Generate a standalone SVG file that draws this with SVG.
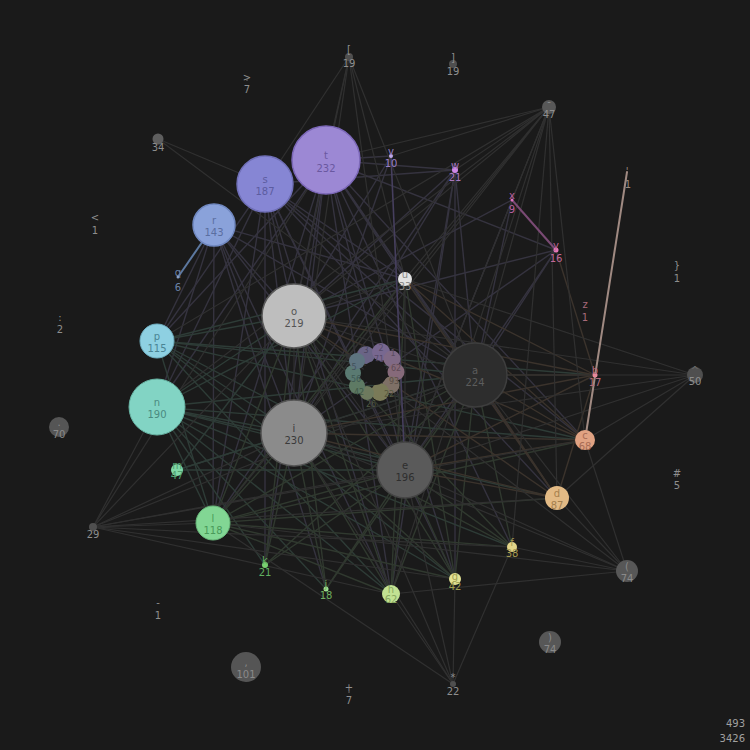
<svg xmlns="http://www.w3.org/2000/svg" width="750" height="750" viewBox="0 0 750 750">
<style>
text{font-family:"DejaVu Sans","Liberation Sans",sans-serif;font-size:10px;text-anchor:middle}
.ep line{stroke:#35333f;stroke-width:1.4}
.et line{stroke:#2e3c37;stroke-width:1.4}
.eg line{stroke:#30392f;stroke-width:1.4}
.eb line{stroke:#3b332c;stroke-width:1.4}
.ey line{stroke:#303030;stroke-width:1.2}
.gp{fill:#4f4f4f}
.gt{fill:#8e8e8e}
#digits text{font-size:8px}
</style>
<rect width="750" height="750" fill="#1a1a1a"/>
<g id="connectors">
<g class="ep">
<line x1="326" y1="160" x2="294" y2="316"/><line x1="326" y1="160" x2="294" y2="433"/><line x1="326" y1="160" x2="405" y2="470"/><line x1="326" y1="160" x2="475" y2="375"/><line x1="326" y1="160" x2="405" y2="279"/><line x1="326" y1="160" x2="157" y2="407"/><line x1="326" y1="160" x2="157" y2="341"/><line x1="326" y1="160" x2="213" y2="523"/><line x1="326" y1="160" x2="391" y2="594"/><line x1="326" y1="160" x2="455" y2="579"/><line x1="326" y1="160" x2="556" y2="250"/><line x1="326" y1="160" x2="557" y2="498"/><line x1="326" y1="160" x2="585" y2="440"/><line x1="326" y1="160" x2="265" y2="565"/><line x1="326" y1="160" x2="512" y2="547"/>
<line x1="265" y1="184" x2="294" y2="316"/><line x1="265" y1="184" x2="294" y2="433"/><line x1="265" y1="184" x2="405" y2="470"/><line x1="265" y1="184" x2="475" y2="375"/><line x1="265" y1="184" x2="157" y2="407"/><line x1="265" y1="184" x2="157" y2="341"/><line x1="265" y1="184" x2="213" y2="523"/><line x1="265" y1="184" x2="391" y2="594"/><line x1="265" y1="184" x2="405" y2="279"/><line x1="265" y1="184" x2="455" y2="579"/><line x1="265" y1="184" x2="265" y2="565"/><line x1="265" y1="184" x2="557" y2="498"/><line x1="265" y1="184" x2="585" y2="440"/>
<line x1="214" y1="225" x2="294" y2="316"/><line x1="214" y1="225" x2="294" y2="433"/><line x1="214" y1="225" x2="405" y2="470"/><line x1="214" y1="225" x2="475" y2="375"/><line x1="214" y1="225" x2="157" y2="407"/><line x1="214" y1="225" x2="157" y2="341"/><line x1="214" y1="225" x2="213" y2="523"/><line x1="214" y1="225" x2="405" y2="279"/><line x1="214" y1="225" x2="391" y2="594"/><line x1="214" y1="225" x2="326" y2="589"/>
<line x1="455" y1="170" x2="294" y2="316"/><line x1="455" y1="170" x2="294" y2="433"/><line x1="455" y1="170" x2="405" y2="470"/><line x1="455" y1="170" x2="475" y2="375"/><line x1="455" y1="170" x2="391" y2="594"/><line x1="455" y1="170" x2="326" y2="160"/><line x1="455" y1="170" x2="265" y2="184"/><line x1="455" y1="170" x2="455" y2="579"/><line x1="455" y1="170" x2="213" y2="523"/>
<line x1="391" y1="156" x2="294" y2="316"/><line x1="391" y1="156" x2="326" y2="160"/><line x1="391" y1="156" x2="294" y2="433"/>
<line x1="512" y1="200" x2="475" y2="375"/><line x1="512" y1="200" x2="405" y2="470"/><line x1="512" y1="200" x2="294" y2="316"/>
<line x1="556" y1="250" x2="475" y2="375"/><line x1="556" y1="250" x2="405" y2="470"/><line x1="556" y1="250" x2="294" y2="433"/><line x1="556" y1="250" x2="294" y2="316"/>
</g>
<g class="et">
<line x1="157" y1="407" x2="294" y2="316"/><line x1="157" y1="407" x2="294" y2="433"/><line x1="157" y1="407" x2="405" y2="470"/><line x1="157" y1="407" x2="475" y2="375"/><line x1="157" y1="407" x2="213" y2="523"/><line x1="157" y1="407" x2="391" y2="594"/><line x1="157" y1="407" x2="455" y2="579"/><line x1="157" y1="407" x2="557" y2="498"/><line x1="157" y1="407" x2="585" y2="440"/><line x1="157" y1="407" x2="512" y2="547"/><line x1="157" y1="407" x2="405" y2="279"/><line x1="157" y1="407" x2="265" y2="565"/><line x1="157" y1="407" x2="326" y2="589"/>
<line x1="157" y1="341" x2="294" y2="316"/><line x1="157" y1="341" x2="294" y2="433"/><line x1="157" y1="341" x2="405" y2="470"/><line x1="157" y1="341" x2="475" y2="375"/><line x1="157" y1="341" x2="405" y2="279"/><line x1="157" y1="341" x2="213" y2="523"/><line x1="157" y1="341" x2="391" y2="594"/><line x1="157" y1="341" x2="595" y2="375"/><line x1="157" y1="341" x2="585" y2="440"/><line x1="157" y1="341" x2="455" y2="579"/>
<line x1="177" y1="470" x2="294" y2="433"/><line x1="177" y1="470" x2="405" y2="470"/><line x1="177" y1="470" x2="475" y2="375"/><line x1="177" y1="470" x2="294" y2="316"/>
</g>
<g class="eg">
<line x1="213" y1="523" x2="294" y2="316"/><line x1="213" y1="523" x2="294" y2="433"/><line x1="213" y1="523" x2="405" y2="470"/><line x1="213" y1="523" x2="475" y2="375"/><line x1="213" y1="523" x2="405" y2="279"/><line x1="213" y1="523" x2="391" y2="594"/><line x1="213" y1="523" x2="455" y2="579"/><line x1="213" y1="523" x2="557" y2="498"/><line x1="213" y1="523" x2="585" y2="440"/><line x1="213" y1="523" x2="512" y2="547"/>
<line x1="265" y1="565" x2="294" y2="433"/><line x1="265" y1="565" x2="405" y2="470"/><line x1="265" y1="565" x2="475" y2="375"/><line x1="265" y1="565" x2="294" y2="316"/>
<line x1="326" y1="589" x2="294" y2="433"/><line x1="326" y1="589" x2="475" y2="375"/><line x1="326" y1="589" x2="294" y2="316"/><line x1="326" y1="589" x2="405" y2="470"/>
<line x1="391" y1="594" x2="294" y2="316"/><line x1="391" y1="594" x2="294" y2="433"/><line x1="391" y1="594" x2="405" y2="470"/><line x1="391" y1="594" x2="475" y2="375"/><line x1="391" y1="594" x2="405" y2="279"/>
<line x1="455" y1="579" x2="294" y2="316"/><line x1="455" y1="579" x2="294" y2="433"/><line x1="455" y1="579" x2="405" y2="470"/><line x1="455" y1="579" x2="475" y2="375"/><line x1="455" y1="579" x2="405" y2="279"/>
<line x1="512" y1="547" x2="294" y2="316"/><line x1="512" y1="547" x2="294" y2="433"/><line x1="512" y1="547" x2="405" y2="470"/><line x1="512" y1="547" x2="475" y2="375"/>
</g>
<g class="eb">
<line x1="557" y1="498" x2="294" y2="316"/><line x1="557" y1="498" x2="294" y2="433"/><line x1="557" y1="498" x2="405" y2="470"/><line x1="557" y1="498" x2="475" y2="375"/><line x1="557" y1="498" x2="405" y2="279"/><line x1="557" y1="498" x2="595" y2="375"/>
<line x1="585" y1="440" x2="294" y2="316"/><line x1="585" y1="440" x2="294" y2="433"/><line x1="585" y1="440" x2="405" y2="470"/><line x1="585" y1="440" x2="475" y2="375"/><line x1="585" y1="440" x2="405" y2="279"/><line x1="585" y1="440" x2="595" y2="375"/>
<line x1="595" y1="375" x2="294" y2="316"/><line x1="595" y1="375" x2="294" y2="433"/><line x1="595" y1="375" x2="405" y2="470"/><line x1="595" y1="375" x2="475" y2="375"/><line x1="595" y1="375" x2="405" y2="279"/><line x1="595" y1="375" x2="556" y2="250"/>
</g>
<g class="ey">
<line x1="349" y1="57" x2="265" y2="184"/><line x1="349" y1="57" x2="326" y2="160"/><line x1="349" y1="57" x2="294" y2="316"/><line x1="349" y1="57" x2="294" y2="433"/><line x1="349" y1="57" x2="475" y2="375"/><line x1="349" y1="57" x2="405" y2="470"/><line x1="349" y1="57" x2="405" y2="279"/>
<line x1="549" y1="107" x2="326" y2="160"/><line x1="549" y1="107" x2="391" y2="156"/><line x1="549" y1="107" x2="455" y2="170"/><line x1="549" y1="107" x2="294" y2="316"/><line x1="549" y1="107" x2="294" y2="433"/><line x1="549" y1="107" x2="475" y2="375"/><line x1="549" y1="107" x2="405" y2="470"/><line x1="549" y1="107" x2="405" y2="279"/><line x1="549" y1="107" x2="157" y2="341"/><line x1="549" y1="107" x2="157" y2="407"/><line x1="549" y1="107" x2="213" y2="523"/><line x1="549" y1="107" x2="557" y2="498"/><line x1="549" y1="107" x2="585" y2="440"/><line x1="549" y1="107" x2="512" y2="547"/><line x1="549" y1="107" x2="391" y2="594"/><line x1="549" y1="107" x2="512" y2="200"/>
<line x1="695" y1="375" x2="405" y2="279"/><line x1="695" y1="375" x2="475" y2="375"/><line x1="695" y1="375" x2="294" y2="316"/><line x1="695" y1="375" x2="294" y2="433"/><line x1="695" y1="375" x2="405" y2="470"/><line x1="695" y1="375" x2="585" y2="440"/><line x1="695" y1="375" x2="557" y2="498"/>
<line x1="627" y1="571" x2="557" y2="498"/><line x1="627" y1="571" x2="512" y2="547"/><line x1="627" y1="571" x2="405" y2="470"/><line x1="627" y1="571" x2="294" y2="433"/><line x1="627" y1="571" x2="213" y2="523"/><line x1="627" y1="571" x2="475" y2="375"/><line x1="627" y1="571" x2="294" y2="316"/><line x1="627" y1="571" x2="391" y2="594"/><line x1="627" y1="571" x2="585" y2="440"/>
<line x1="453" y1="684" x2="391" y2="594"/><line x1="453" y1="684" x2="213" y2="523"/><line x1="453" y1="684" x2="294" y2="433"/><line x1="453" y1="684" x2="405" y2="470"/><line x1="453" y1="684" x2="294" y2="316"/><line x1="453" y1="684" x2="455" y2="579"/><line x1="453" y1="684" x2="512" y2="547"/>
<line x1="93" y1="527" x2="213" y2="523"/><line x1="93" y1="527" x2="294" y2="433"/><line x1="93" y1="527" x2="405" y2="470"/><line x1="93" y1="527" x2="157" y2="407"/><line x1="93" y1="527" x2="475" y2="375"/><line x1="93" y1="527" x2="294" y2="316"/><line x1="93" y1="527" x2="512" y2="547"/><line x1="93" y1="527" x2="455" y2="579"/><line x1="93" y1="527" x2="391" y2="594"/><line x1="93" y1="527" x2="557" y2="498"/><line x1="93" y1="527" x2="585" y2="440"/><line x1="93" y1="527" x2="326" y2="160"/>
<line x1="158" y1="139" x2="265" y2="184"/><line x1="158" y1="139" x2="475" y2="375"/>
<line x1="294" y1="316" x2="294" y2="433"/><line x1="294" y1="316" x2="405" y2="470"/><line x1="294" y1="316" x2="475" y2="375"/><line x1="294" y1="433" x2="405" y2="470"/><line x1="294" y1="433" x2="475" y2="375"/><line x1="405" y1="470" x2="475" y2="375"/><line x1="405" y1="279" x2="475" y2="375"/><line x1="405" y1="279" x2="294" y2="316"/><line x1="405" y1="279" x2="405" y2="470"/><line x1="405" y1="279" x2="294" y2="433"/>
</g>
<line x1="214" y1="225" x2="178" y2="277" stroke="#5c78a0" stroke-width="2"/>
<line x1="512" y1="200" x2="556" y2="250" stroke="#7a4a74" stroke-width="2"/>
<line x1="585" y1="440" x2="627" y2="172" stroke="#a08a82" stroke-width="2"/>
<line x1="391" y1="156" x2="405" y2="470" stroke="#463f5e" stroke-width="1.6"/>
</g>
<g id="digits">
<g id="n-3"><circle cx="366" cy="355" r="9" fill="#6a6486"/><text x="366" y="353" fill="#4a4660">3</text><text x="362" y="364" fill="#4a4660">4</text></g>
<g id="n-2"><circle cx="381" cy="352" r="9" fill="#786890"/><text x="381" y="351" fill="#564a6a">2</text><text x="379" y="362" fill="#564a6a">71</text></g>
<g id="n-1"><circle cx="392" cy="359" r="8.5" fill="#806a86"/><text x="393" y="356" fill="#5a4a60">1</text></g>
<g id="n-0"><circle cx="396" cy="372" r="8.5" fill="#866a7a"/><text x="396" y="371" fill="#604a58">62</text></g>
<g id="n-9"><circle cx="391" cy="385" r="8.5" fill="#7e7066"/><text x="394" y="384" fill="#5a4e46">93</text></g>
<g id="n-8"><circle cx="380" cy="392" r="9" fill="#7a7a58"/><text x="389" y="397" fill="#56563e">22</text></g>
<g id="n-7"><circle cx="367" cy="393" r="7" fill="#6e7a5e"/><text x="371" y="407" fill="#4e5842">26</text></g>
<g id="n-6"><circle cx="357" cy="386" r="8" fill="#5e7a64"/><text x="359" y="395" fill="#425846">42</text></g>
<g id="n-5"><circle cx="353" cy="373" r="8" fill="#5a7a72"/><text x="356" y="382" fill="#3e5852">56</text></g>
<g id="n-4"><circle cx="357" cy="361" r="8" fill="#5e7480"/><text x="354" y="370" fill="#42525c">5</text></g>
<circle cx="375" cy="373" r="12" fill="#1a1a1a"/>
</g>
<g id="nodes">
<g id="n-a"><circle cx="475" cy="375" r="32" fill="#2d2d2d" stroke="#3e3e3e" stroke-width="1.5"/><text x="475" y="373.5" fill="#5c5c5c">a</text><text x="475" y="386" fill="#5c5c5c">224</text></g>
<g id="n-o"><circle cx="294" cy="316" r="32" fill="#bebebe" stroke="#5a5a5a" stroke-width="1.5"/><text x="294" y="314.5" fill="#555">o</text><text x="294" y="327" fill="#555">219</text></g>
<g id="n-i"><circle cx="294" cy="433" r="33" fill="#8b8b8b" stroke="#555" stroke-width="1.5"/><text x="294" y="431.5" fill="#3a3a3a">i</text><text x="294" y="444" fill="#3a3a3a">230</text></g>
<g id="n-e"><circle cx="405" cy="470" r="28" fill="#5a5a5a" stroke="#454545" stroke-width="1.5"/><text x="405" y="468.5" fill="#2e2e2e">e</text><text x="405" y="481" fill="#2e2e2e">196</text></g>
<g id="n-u"><circle cx="405" cy="279" r="7" fill="#e2e2e2"/><text x="405" y="277.5" fill="#8a8a8a">u</text><text x="405" y="290" fill="#8a8a8a">33</text></g>
<g id="n-t"><circle cx="326" cy="160" r="34" fill="#9c88d4" stroke="#7c68b8" stroke-width="1.5"/><text x="326" y="158.5" fill="#6a58a0">t</text><text x="326" y="171.5" fill="#6a58a0">232</text></g>
<g id="n-s"><circle cx="265" cy="184" r="28" fill="#8686d4" stroke="#7070b8" stroke-width="1.5"/><text x="265" y="182.5" fill="#5c5ca0">s</text><text x="265" y="195" fill="#5c5ca0">187</text></g>
<g id="n-r"><circle cx="214" cy="225" r="21" fill="#8aa2da" stroke="#7088c0" stroke-width="1.5"/><text x="214" y="223.5" fill="#5a6ea0">r</text><text x="214" y="236" fill="#5a6ea0">143</text></g>
<g id="n-q"><circle cx="178" cy="277" r="1.5" fill="#8aa0c8"/><text x="178" y="275.5" fill="#6a82a8">q</text><text x="178" y="291" fill="#6a82a8">6</text></g>
<g id="n-p"><circle cx="157" cy="341" r="17" fill="#8ed0e2" stroke="#70b0c2" stroke-width="1"/><text x="157" y="339.5" fill="#4a8494">p</text><text x="157" y="352" fill="#4a8494">115</text></g>
<g id="n-n"><circle cx="157" cy="407" r="28" fill="#82d4c4" stroke="#68b4a4" stroke-width="1"/><text x="157" y="405.5" fill="#4a8a80">n</text><text x="157" y="418" fill="#4a8a80">190</text></g>
<g id="n-m"><circle cx="177" cy="470" r="6" fill="#80d8a8"/><text x="177" y="468.5" fill="#50a070">m</text><text x="177" y="479" fill="#50a070">47</text></g>
<g id="n-l"><circle cx="213" cy="523" r="17" fill="#82d694" stroke="#68b87a" stroke-width="1"/><text x="213" y="521.5" fill="#4a9a5a">l</text><text x="213" y="534" fill="#4a9a5a">118</text></g>
<g id="n-k"><circle cx="265" cy="565" r="3" fill="#78d070"/><text x="265" y="563.5" fill="#60b060">k</text><text x="265" y="576" fill="#60b060">21</text></g>
<g id="n-j"><circle cx="326" cy="589" r="2.5" fill="#a0e090"/><text x="326" y="587.5" fill="#70b060">j</text><text x="326" y="599" fill="#70b060">18</text></g>
<g id="n-h"><circle cx="391" cy="594" r="9" fill="#c2e292"/><text x="391" y="592.5" fill="#88a860">h</text><text x="391" y="603" fill="#88a860">62</text></g>
<g id="n-g"><circle cx="455" cy="579" r="6" fill="#e2e294"/><text x="455" y="580" fill="#a0a050">g</text><text x="455" y="590" fill="#a0a050">42</text></g>
<g id="n-f"><circle cx="512" cy="547" r="5" fill="#e2d488"/><text x="512" y="545.5" fill="#a89a50">f</text><text x="512" y="557" fill="#a89a50">38</text></g>
<g id="n-d"><circle cx="557" cy="498" r="12" fill="#e2ba85"/><text x="557" y="496.5" fill="#a5804d">d</text><text x="557" y="509" fill="#a5804d">87</text></g>
<g id="n-c"><circle cx="585" cy="440" r="10" fill="#e0a283"/><text x="585" y="438.5" fill="#a86c55">c</text><text x="585" y="450" fill="#a86c55">68</text></g>
<g id="n-b"><circle cx="595" cy="375" r="2.5" fill="#e88a9a"/><text x="595" y="373.5" fill="#b06a7a">b</text><text x="595" y="386" fill="#b06a7a">17</text></g>
<g id="n-z"><text x="585" y="308" fill="#a86a7a">z</text><text x="585" y="321" fill="#a86a7a">1</text></g>
<g id="n-y"><circle cx="556" cy="250" r="2.5" fill="#e878b8"/><text x="556" y="248.5" fill="#c06898">y</text><text x="556" y="262" fill="#c06898">16</text></g>
<g id="n-x"><circle cx="512" cy="200" r="1.5" fill="#e070c0"/><text x="512" y="198.5" fill="#b860a0">x</text><text x="512" y="213" fill="#b860a0">9</text></g>
<g id="n-w"><circle cx="455" cy="170" r="3" fill="#d088e8"/><text x="455" y="168.5" fill="#a878c0">w</text><text x="455" y="181" fill="#a878c0">21</text></g>
<g id="n-v"><circle cx="391" cy="156" r="2" fill="#c0a8e8"/><text x="391" y="154.5" fill="#9a80c8">v</text><text x="391" y="167" fill="#9a80c8">10</text></g>
<g id="n-lbr"><circle cx="349" cy="57" r="4" class="gp"/><text x="349" y="53" class="gt">[</text><text x="349" y="67" class="gt">19</text></g>
<g id="n-rbr"><circle cx="453" cy="64" r="4" class="gp"/><text x="453" y="61" class="gt">]</text><text x="453" y="75" class="gt">19</text></g>
<g id="n-dash"><circle cx="549" cy="107" r="7" fill="#585858"/><text x="549" y="105" fill="#8a8a8a">-</text><text x="549" y="118" class="gt">47</text></g>
<g id="n-apos"><circle cx="627" cy="172" r="1" fill="#a08a82"/><text x="627" y="175" fill="#9a8a80">'</text><text x="628" y="188" fill="#9a8a80">1</text></g>
<g id="n-rbrace"><text x="677" y="269" class="gt">}</text><text x="677" y="282" class="gt">1</text></g>
<g id="n-caret"><circle cx="695" cy="375" r="8" class="gp"/><text x="695" y="373.5" fill="#6a6a6a">^</text><text x="695" y="385" class="gt">50</text></g>
<g id="n-hash"><text x="677" y="477" class="gt">#</text><text x="677" y="489" class="gt">5</text></g>
<g id="n-lpar"><circle cx="627" cy="571" r="11" fill="#575757"/><text x="627" y="569.5" fill="#8a8a8a">(</text><text x="627" y="582" fill="#8a8a8a">74</text></g>
<g id="n-rpar"><circle cx="550" cy="642" r="11" fill="#575757"/><text x="550" y="640.5" fill="#8a8a8a">)</text><text x="550" y="653" fill="#8a8a8a">74</text></g>
<g id="n-star"><circle cx="453" cy="684" r="3" class="gp"/><text x="453" y="681" class="gt">*</text><text x="453" y="695" class="gt">22</text></g>
<g id="n-plus"><circle cx="349" cy="692" r="1" class="gp"/><text x="349" y="691" class="gt">+</text><text x="349" y="704" class="gt">7</text></g>
<g id="n-comma"><circle cx="246" cy="667" r="15" fill="#555"/><text x="246" y="665.5" fill="#8a8a8a">,</text><text x="246" y="678" fill="#8a8a8a">101</text></g>
<g id="n-hyph"><text x="158" y="606" class="gt">-</text><text x="158" y="619" class="gt">1</text></g>
<g id="n-quot"><circle cx="93" cy="527" r="4" class="gp"/><text x="93" y="538" class="gt">29</text></g>
<g id="n-dot"><circle cx="59" cy="427" r="10" fill="#555"/><text x="59" y="425.5" fill="#8a8a8a">.</text><text x="59" y="438" fill="#8a8a8a">70</text></g>
<g id="n-colon"><text x="60" y="321" class="gt">:</text><text x="60" y="333" class="gt">2</text></g>
<g id="n-lt"><text x="95" y="221" class="gt">&lt;</text><text x="95" y="234" class="gt">1</text></g>
<g id="n-gt"><circle cx="247" cy="80" r="1" class="gp"/><text x="247" y="81" class="gt">&gt;</text><text x="247" y="93" class="gt">7</text></g>
<g id="n-q34"><circle cx="158" cy="139" r="5.5" fill="#5e5e5e"/><text x="158" y="151" class="gt">34</text></g>
</g>
<g id="totals">
<text x="745" y="727" style="text-anchor:end" fill="#a0a0a0">493</text>
<text x="745" y="742" style="text-anchor:end" fill="#a0a0a0">3426</text>
</g>
</svg>
